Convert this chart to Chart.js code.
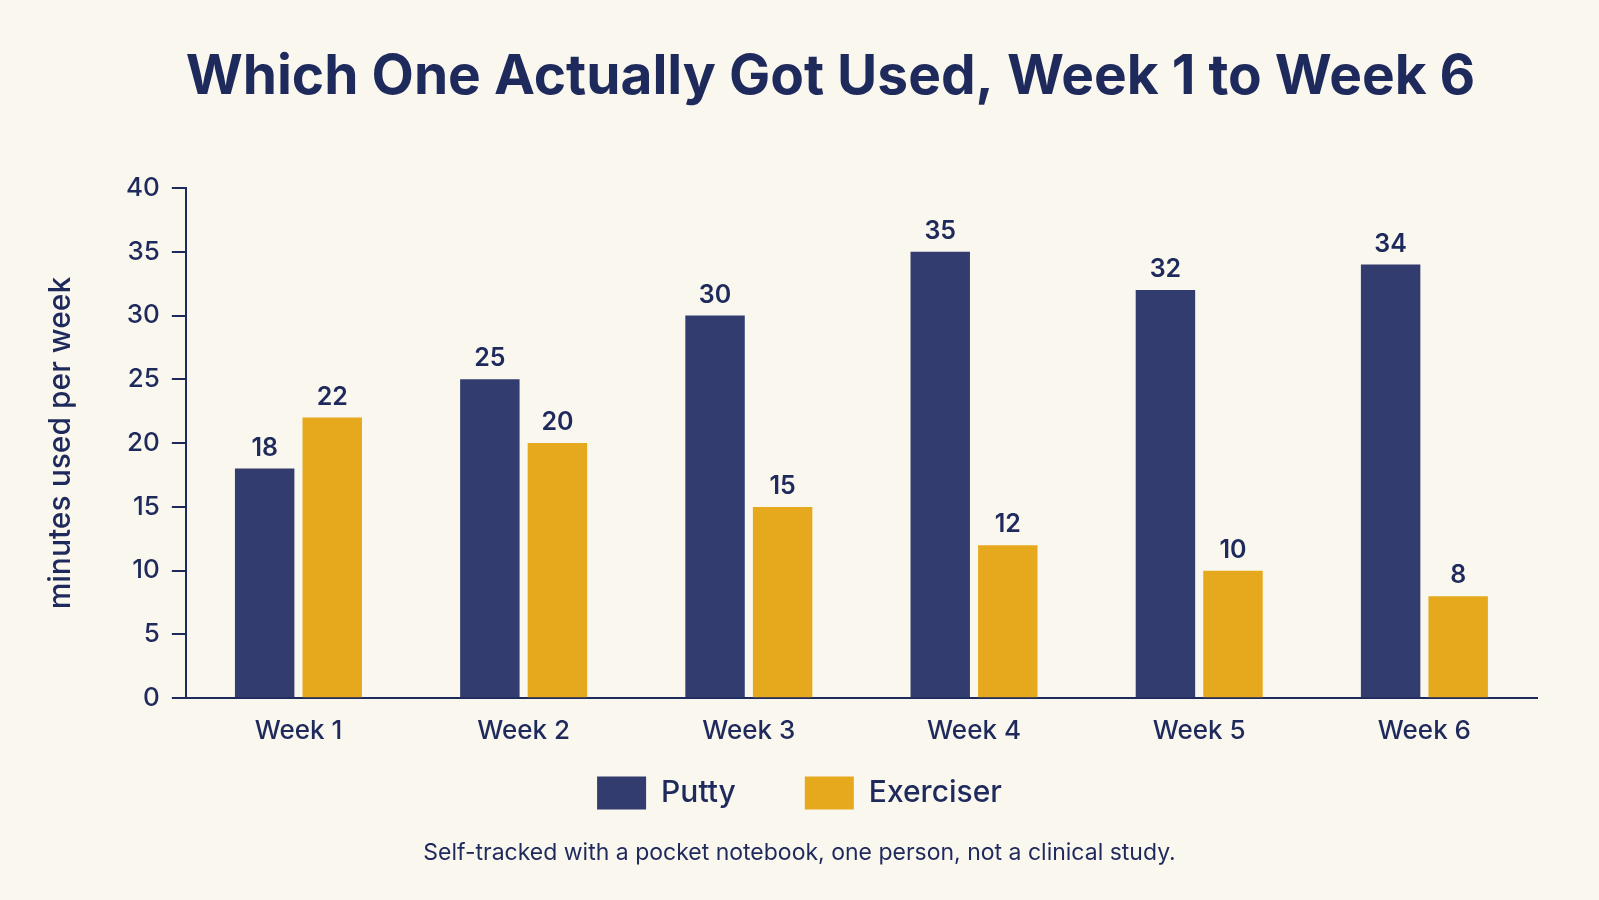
<!DOCTYPE html>
<html>
<head>
<meta charset="utf-8">
<script src="https://cdn.jsdelivr.net/npm/chart.js@4.4.1/dist/chart.umd.min.js"></script>
<style>
  html, body { margin: 0; padding: 0; background: #faf7ef; }
  #wrap { width: 1599px; height: 900px; }
</style>
</head>
<body>
<div id="wrap"><canvas id="usage"></canvas></div>
<script>
// values
var weeks = ['Week 1', 'Week 2', 'Week 3', 'Week 4', 'Week 5', 'Week 6'];
var putty = [18, 25, 30, 35, 32, 34];
var exerciser = [22, 20, 15, 12, 10, 8];
var yTicks = [0, 5, 10, 15, 20, 25, 30, 35, 40];

var ink = '#1f2a5c';
var navy = '#323c6e';
var gold = '#e6a91e';

// numbers above each bar
var barValues = {
  id: 'barValues',
  afterDatasetsDraw: function (chart) {
    var c = chart.ctx;
    c.save();
    c.fillStyle = ink;
    c.font = '600 25px Inter';
    c.textAlign = 'center';
    c.textBaseline = 'bottom';
    chart.data.datasets.forEach(function (ds, i) {
      chart.getDatasetMeta(i).data.forEach(function (bar, j) {
        c.fillText(ds.data[j], bar.x, bar.y - 8);
      });
    });
    c.restore();
  }
};

// legend + footnote sit centred on the whole canvas, title slightly right of it
var recenter = {
  id: 'recenter',
  afterLayout: function (chart) {
    chart.boxes.forEach(function (b) {
      if (b.axis) return;
      b.left = 0;
      b.right = chart.width;
    });
    chart.titleBlock.left += 62;
  }
};

var ctx = document.getElementById('usage');
var config = {
  type: 'bar',
  data: {
    labels: weeks,
    datasets: [{
      label: 'Putty',
      data: putty,
      backgroundColor: navy
    }, {
      label: 'Exerciser',
      data: exerciser,
      backgroundColor: gold
    }]
  },
  options: {
    responsive: true,
    maintainAspectRatio: false,
    animation: false,
    layout: { padding: { left: 43, right: 62, top: 0, bottom: 0 } },
    datasets: { bar: { categoryPercentage: 0.6, barPercentage: 0.88 } },
    plugins: {
      title: {
        display: true,
        text: 'Which One Actually Got Used, Week 1 to Week 6',
        color: ink,
        font: { family: 'Inter', size: 55, weight: '700' },
        padding: { top: 44, bottom: 78 }
      },
      subtitle: {
        display: true,
        position: 'bottom',
        text: 'Self-tracked with a pocket notebook, one person, not a clinical study.',
        color: ink,
        font: { family: 'Inter', size: 23, weight: '400' },
        padding: { top: 20, bottom: 33 }
      },
      legend: {
        position: 'bottom',
        labels: {
          color: ink,
          font: { family: 'Inter', size: 30, weight: '500' },
          boxWidth: 49,
          boxHeight: 33,
          padding: 13,
          // wider gap between the two entries without pushing the legend down
          generateLabels: function (chart) {
            var items = Chart.defaults.plugins.legend.labels.generateLabels(chart);
            items[0].text = items[0].text + '\u00a0\u00a0\u00a0\u00a0\u00a0\u00a0\u00a0';
            return items;
          }
        }
      },
      tooltip: { enabled: false }
    },
    scales: {
      x: {
        grid: { display: false, drawTicks: false },
        border: { display: true, color: ink, width: 2 },
        ticks: { color: ink, padding: 17, font: { family: 'Inter', size: 26, weight: '500' } }
      },
      y: {
        min: 0,
        max: 40,
        afterBuildTicks: function (axis) {
          axis.ticks = yTicks.map(function (v) { return { value: v }; });
        },
        grid: { drawOnChartArea: false, drawTicks: true, tickLength: 14, color: ink, lineWidth: 2 },
        border: { display: true, color: ink, width: 2 },
        ticks: { color: ink, padding: 12, font: { family: 'Inter', size: 26, weight: '500' } },
        title: {
          display: true,
          text: 'minutes used per week',
          color: ink,
          font: { family: 'Inter', size: 30, weight: '500' },
          padding: { top: 0, bottom: 35 }
        }
      }
    }
  },
  plugins: [barValues, recenter]
};

var chart = new Chart(ctx, config);
</script>
</body>
</html>
